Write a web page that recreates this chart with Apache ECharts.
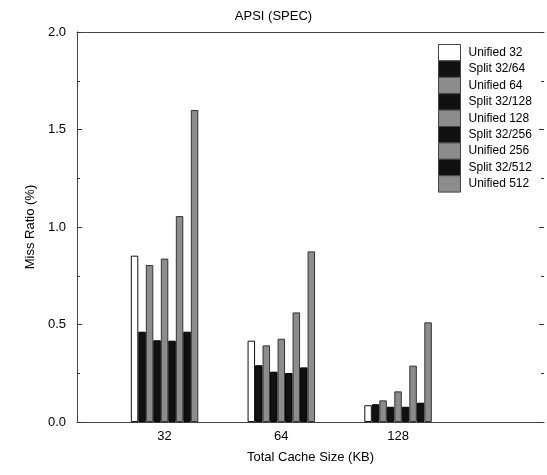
<!DOCTYPE html>
<html>
<head>
<meta charset="utf-8">
<script src="https://cdn.jsdelivr.net/npm/echarts@6/dist/echarts.min.js"></script>
<style>html,body{margin:0;padding:0;background:#fff;}#c{width:547px;height:475px;}</style>
</head>
<body>
<div id="c"></div>
<script>
const categories = ['32', '64', '128'];
const seriesNames = ['Unified 32', 'Split 32/64', 'Unified 64', 'Split 32/128', 'Unified 128', 'Split 32/256', 'Unified 256', 'Split 32/512', 'Unified 512'];
const unified32 = [0.853, 0.417, 0.086];
const split32_64 = [0.463, 0.291, 0.091];
const unified64 = [0.805, 0.393, 0.111];
const split32_128 = [0.419, 0.258, 0.078];
const unified128 = [0.838, 0.427, 0.157];
const split32_256 = [0.417, 0.251, 0.078];
const unified256 = [1.056, 0.562, 0.289];
const split32_512 = [0.463, 0.280, 0.099];
const unified512 = [1.600, 0.875, 0.511];
const yTicks = [0, 0.5, 1.0, 1.5, 2.0];

const allValues = [unified32, split32_64, unified64, split32_128, unified128, split32_256, unified256, split32_512, unified512];
const styles = seriesNames.map((n, i) => {
  if (i === 0) return { color: '#ffffff', borderColor: '#111', borderWidth: 1 };
  if (i % 2 === 1) return { color: '#111111', borderColor: '#000', borderWidth: 1 };
  return { color: '#8c8c8c', borderColor: '#333', borderWidth: 1 };
});
const font = 'Liberation Sans, Arial, Helvetica, sans-serif';

const series = seriesNames.map((name, i) => ({
  name: name,
  type: 'bar',
  barWidth: 7.5,
  barGap: '0%',
  itemStyle: styles[i],
  data: allValues[i].map((v, k) => [k + 1, v])
}));

const chart = echarts.init(document.getElementById('c'), null, { renderer: 'canvas' });
chart.setOption({
  animation: false,
  backgroundColor: '#fff',
  title: {
    text: 'APSI (SPEC)', left: 'center', top: 5,
    textStyle: { fontFamily: font, fontSize: 13, fontWeight: 'normal', color: '#000' }
  },
  legend: {
    orient: 'vertical', left: 438, top: 44, padding: 0,
    itemWidth: 22, itemHeight: 16.4, itemGap: -1,
    icon: 'rect',
    itemStyle: { borderWidth: 1, borderColor: '#444' },
    textStyle: { fontFamily: font, fontSize: 12, color: '#000', padding: [0, 0, 0, 3] },
    data: seriesNames
  },
  grid: { left: 77, right: 1, top: 32, bottom: 53 },
  xAxis: [{
    type: 'value', min: 0.25, max: 4.25, interval: 0.25,
    name: 'Total Cache Size (KB)', nameLocation: 'middle', nameGap: 29,
    nameTextStyle: { fontFamily: font, fontSize: 13, color: '#000' },
    axisLine: { show: true, lineStyle: { color: '#444', width: 1 } },
    axisTick: { show: false },
    splitLine: { show: false },
    axisLabel: {
      fontFamily: font, fontSize: 13, color: '#000', margin: 8,
      formatter: v => { const r = Math.round(v); return Math.abs(v - r) < 1e-6 && r >= 1 && r <= categories.length ? categories[r - 1] : ''; }
    }
  }, {
    type: 'value', position: 'top', min: 0.25, max: 4.25,
    axisLine: { show: true, onZero: false, lineStyle: { color: '#444', width: 1 } },
    axisTick: { show: false }, axisLabel: { show: false }, splitLine: { show: false }
  }],
  yAxis: [{
    type: 'value', min: 0, max: 2, interval: 0.5,
    name: 'Miss Ratio (%)', nameLocation: 'middle', nameGap: 40,
    nameTextStyle: { fontFamily: font, fontSize: 13, color: '#000' },
    axisLine: { show: true, lineStyle: { color: '#444', width: 1 } },
    axisTick: { show: true, inside: true, length: 5, lineStyle: { color: '#333' } },
    minorTick: { show: true, splitNumber: 2, length: 3, lineStyle: { color: '#333' } },
    splitLine: { show: false },
    axisLabel: { fontFamily: font, fontSize: 13, color: '#000', margin: 11, formatter: v => v.toFixed(1) }
  }, {
    type: 'value', position: 'right', min: 0, max: 2, interval: 0.5,
    axisLine: { show: false },
    axisTick: { show: true, inside: true, length: 5, lineStyle: { color: '#333' } },
    minorTick: { show: true, splitNumber: 2, length: 3, lineStyle: { color: '#333' } },
    splitLine: { show: false }, axisLabel: { show: false }
  }],
  series: series
});
</script>
</body>
</html>
